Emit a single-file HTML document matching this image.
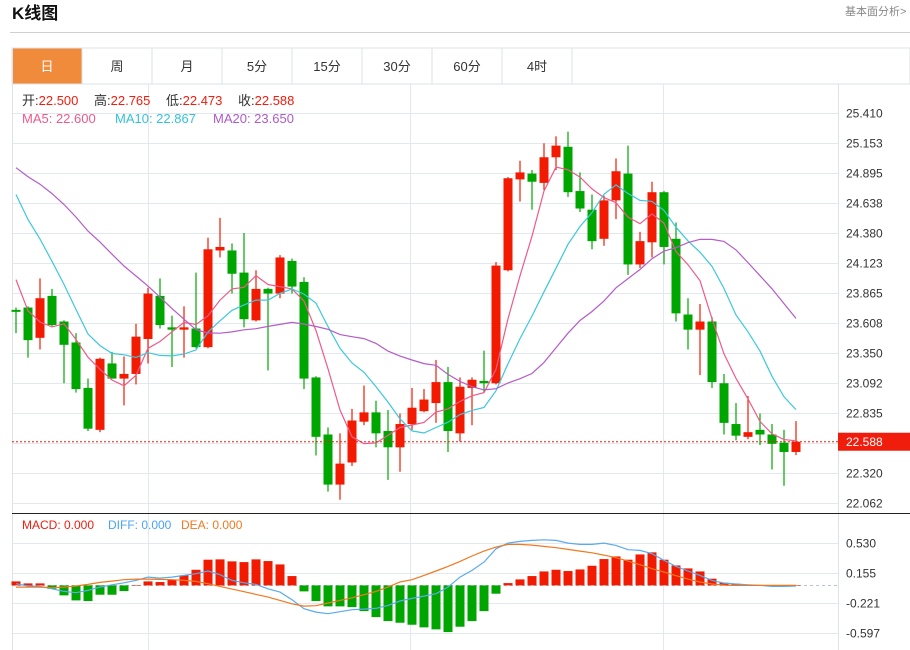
<!DOCTYPE html>
<html><head><meta charset="utf-8">
<style>
body{margin:0;background:#fff;width:910px;height:650px;overflow:hidden;font-family:"Liberation Sans","Noto Sans CJK SC",sans-serif;}
svg{display:block}
</style></head>
<body>
<svg id="chart" width="910" height="650" viewBox="0 0 910 650" xmlns="http://www.w3.org/2000/svg" font-family="Liberation Sans, Noto Sans CJK SC, sans-serif">
  <text x="12" y="19" font-size="17" font-weight="bold" fill="#111">K线图</text>
  <text x="845" y="15" font-size="11" fill="#888">基本面分析&gt;</text>
  <line x1="10" y1="32.5" x2="910" y2="32.5" stroke="#d0d0d0"/>
  <g id="tabs"></g>
  <g id="grid"></g>
  <g id="candles"></g>
  <g id="malines"></g>
  <g id="macd"></g>
  <g id="axes"></g>
  <g font-size="13">
    <text x="22" y="105" fill="#333">开:<tspan fill="#f01c0c">22.500</tspan></text>
    <text x="94" y="105" fill="#333">高:<tspan fill="#f01c0c">22.765</tspan></text>
    <text x="166" y="105" fill="#333">低:<tspan fill="#f01c0c">22.473</tspan></text>
    <text x="238" y="105" fill="#333">收:<tspan fill="#f01c0c">22.588</tspan></text>
  </g>
  <g font-size="13">
    <text x="22" y="123" fill="#ee5a8a">MA5: 22.600</text>
    <text x="115" y="123" fill="#33c3d8">MA10: 22.867</text>
    <text x="213" y="123" fill="#b05ac8">MA20: 23.650</text>
  </g>
  <g font-size="12">
    <text x="22" y="529" fill="#f01c0c">MACD: 0.000</text>
    <text x="108" y="529" fill="#4aa3f0">DIFF: 0.000</text>
    <text x="181" y="529" fill="#f07820">DEA: 0.000</text>
  </g>
</svg>
<script>
const prevCloses=[25.0,25.1,25.2,25.3,25.2,25.1,25.2,25.2,25.2,25.2,25.6,25.5,25.5,25.4,25.2,24.8,24.3,23.8,23.29];
const opens=[23.72,23.74,23.48,23.84,23.62,23.44,23.05,22.69,23.26,23.13,23.17,23.47,23.84,23.57,23.55,23.56,23.40,24.23,24.23,24.04,23.63,23.90,23.86,24.14,23.96,23.14,22.65,22.22,22.41,22.76,22.84,22.68,22.54,22.74,22.85,22.92,23.10,22.66,23.05,23.11,23.09,24.06,24.84,24.89,24.81,25.03,25.12,24.74,24.58,24.33,24.66,24.89,24.11,24.30,24.73,24.33,23.68,23.55,23.62,23.09,22.74,22.63,22.69,22.65,22.58,22.500];
const closes=[23.71,23.46,23.82,23.59,23.42,23.04,22.70,23.30,23.13,23.17,23.49,23.86,23.59,23.55,23.57,23.40,24.24,24.26,24.03,23.64,23.90,23.86,24.17,23.92,23.13,22.63,22.22,22.40,22.77,22.84,22.66,22.54,22.74,22.88,22.95,23.10,22.68,23.06,23.12,23.09,24.10,24.85,24.90,24.82,25.03,25.13,24.73,24.59,24.31,24.66,24.91,24.11,24.31,24.73,24.26,23.69,23.55,23.62,23.10,22.75,22.64,22.67,22.65,22.57,22.50,22.588];
const highs=[23.74,23.75,23.99,23.90,23.63,23.52,23.13,23.31,23.36,23.32,23.60,23.91,23.99,23.67,23.75,24.04,24.34,24.51,24.29,24.38,24.06,23.91,24.19,24.16,24.00,23.15,22.71,22.66,22.87,23.07,22.94,22.86,22.83,23.05,23.04,23.29,23.23,23.14,23.14,23.37,24.13,24.86,25.00,24.92,25.15,25.21,25.25,24.90,24.71,24.70,25.02,25.13,24.39,24.82,24.74,24.47,23.82,23.77,23.66,23.17,22.92,22.98,22.83,22.74,22.69,22.765];
const lows=[23.52,23.31,23.38,23.58,23.09,23.01,22.68,22.67,23.13,22.90,23.08,23.26,23.56,23.23,23.31,23.39,23.39,24.17,23.86,23.57,23.62,23.20,23.82,23.86,23.04,22.47,22.16,22.09,22.38,22.73,22.54,22.26,22.33,22.69,22.84,22.75,22.50,22.59,22.73,23.01,23.08,24.05,24.65,24.58,24.75,24.92,24.69,24.56,24.24,24.27,24.50,24.02,24.08,24.17,24.11,23.62,23.38,23.16,23.05,22.65,22.60,22.61,22.56,22.35,22.21,22.473];
const macdHist=[0.05,0.025,0.025,-0.042,-0.125,-0.188,-0.196,-0.117,-0.117,-0.071,0,0.05,0.042,0.071,0.125,0.196,0.322,0.326,0.301,0.292,0.326,0.305,0.263,0.117,-0.075,-0.196,-0.263,-0.263,-0.272,-0.322,-0.397,-0.447,-0.468,-0.493,-0.526,-0.551,-0.585,-0.518,-0.447,-0.322,-0.104,0.029,0.075,0.117,0.175,0.196,0.18,0.2,0.246,0.33,0.363,0.322,0.388,0.414,0.322,0.25,0.213,0.175,0.084,0.033,0.02,0.01,0.005,0.005,0.003,0];
const diffVals=[0.021,-0.008,-0.013,-0.042,-0.075,-0.092,-0.063,-0.021,0.008,0.033,0.063,0.104,0.092,0.104,0.125,0.146,0.180,0.134,0.063,0.033,0.013,-0.042,-0.084,-0.180,-0.292,-0.334,-0.355,-0.330,-0.305,-0.297,-0.288,-0.251,-0.196,-0.163,-0.134,-0.104,-0.021,0.104,0.188,0.292,0.459,0.530,0.551,0.564,0.572,0.564,0.530,0.514,0.514,0.530,0.501,0.447,0.439,0.397,0.313,0.238,0.180,0.125,0.063,0.029,0.017,0.008,0,-0.013,-0.013,-0.008];
const deaVals=[-0.021,-0.021,-0.021,-0.029,-0.021,-0.008,0.013,0.038,0.054,0.071,0.079,0.079,0.075,0.071,0.063,0.050,0.021,-0.013,-0.046,-0.079,-0.113,-0.146,-0.188,-0.230,-0.259,-0.255,-0.221,-0.188,-0.155,-0.117,-0.075,-0.021,0.042,0.071,0.125,0.180,0.238,0.301,0.368,0.430,0.480,0.514,0.514,0.505,0.489,0.472,0.451,0.430,0.409,0.380,0.347,0.305,0.259,0.209,0.167,0.121,0.079,0.042,0.017,0.004,0,0,0,0,0,0];
const priceTicks=['25.410','25.153','24.895','24.638','24.380','24.123','23.865','23.608','23.350','23.092','22.835','22.578','22.320','22.062'];
const macdTicks=['0.530','0.155','-0.221','-0.597'];
const tabLabels=['日','周','月','5分','15分','30分','60分','4时'];
const lastPrice='22.588';

const NS='http://www.w3.org/2000/svg';
const RED='#f21a00', GREEN='#00a600';
function mk(tag,attrs,parent){const e=document.createElementNS(NS,tag);for(const k in attrs)e.setAttribute(k,attrs[k]);parent.appendChild(e);return e;}
const xAt=i=>16+12*i;
const yP=p=>113+(25.410-p)*(390/3.348);
const yM=v=>585.4-v*79.8;

// tabs
const tabs=document.getElementById('tabs');
mk('rect',{x:12,y:48,width:898,height:36,fill:'#fff',stroke:'#dde3ea'},tabs);
tabLabels.forEach((t,i)=>{
  const g=mk('g',{},tabs);
  
  
  mk('rect',{x:12+70*i,y:48,width:70,height:36,fill:i===0?'#f18b3c':'#fff',stroke:'#dde3ea'},g);
  const tx=mk('text',{x:47+70*i,y:71,'font-size':13,'text-anchor':'middle',fill:i===0?'#fff':'#333'},g);
  tx.textContent=t;
});

// grid & frame
const grid=document.getElementById('grid');
priceTicks.forEach(t=>{const y=Math.round(yP(parseFloat(t)))+0.5;const l=mk('line',{x1:12,y1:y,x2:838,y2:y,stroke:'#e3e8ee'},grid);});
macdTicks.forEach(t=>{const y=Math.round(yM(parseFloat(t)))+0.5;const l=mk('line',{x1:12,y1:y,x2:838,y2:y,stroke:'#e3e8ee'},grid);});
[148,410,663].forEach(x=>{mk('line',{x1:x+0.5,y1:84,x2:x+0.5,y2:650,stroke:'#e3e8ee'},grid);});
mk('line',{x1:12.5,y1:48,x2:12.5,y2:650,stroke:'#dde3ea'},grid);
mk('line',{x1:838.5,y1:84,x2:838.5,y2:650,stroke:'#dde3ea'},grid);
mk('line',{x1:12,y1:513.5,x2:910,y2:513.5,stroke:'#222'},grid);
mk('line',{x1:12,y1:585.5,x2:838,y2:585.5,stroke:'#b8c4d0','stroke-dasharray':'3,3'},grid);

// candles
const cg=document.getElementById('candles');
closes.forEach((c,i)=>{
  const o=opens[i],up=c>=o,col=up?RED:GREEN,x=xAt(i);
  const g=mk('g',{},cg);
  
  
  mk('line',{x1:x,y1:yP(highs[i]),x2:x,y2:yP(lows[i]),stroke:col,'stroke-width':1.2},g);
  const t=Math.min(yP(o),yP(c)),h=Math.max(2,Math.abs(yP(o)-yP(c)));
  mk('rect',{x:x-4.5,y:t,width:9,height:h,fill:col},g);
});

// MA lines
const all=prevCloses.concat(closes),off=prevCloses.length;
function ma(n){return closes.map((_,i)=>{let s=0;for(let k=0;k<n;k++)s+=all[off+i-k];return s/n;});}
const mg=document.getElementById('malines');
[[5,'#ee5a8a','ma5-line'],[10,'#3cc8dc','ma10-line'],[20,'#b45cc8','ma20-line']].forEach(([n,col,name])=>{
  const pts=ma(n).map((v,i)=>xAt(i)+','+yP(v).toFixed(1)).join(' ');
  const pl=mk('polyline',{points:pts,fill:'none',stroke:col,'stroke-width':1.2},mg);
  
  
});

// last price line
const lp=parseFloat(lastPrice),ly=yP(lp);
const ll=mk('line',{x1:12,y1:ly,x2:838,y2:ly,stroke:'#f01c0c','stroke-dasharray':'2,2','stroke-width':1},mg);



// MACD
const macd=document.getElementById('macd');
macdHist.forEach((v,i)=>{
  const y0=yM(0),y1=yM(v);
  const r=mk('rect',{x:xAt(i)-4.5,y:Math.min(y0,y1),width:9,height:Math.max(0.5,Math.abs(y1-y0)),fill:v>=0?RED:GREEN},macd);
  
  
});
[[diffVals,'#5aaaf0','diff-line'],[deaVals,'#f07820','dea-line']].forEach(([arr,col,name])=>{
  const pl=mk('polyline',{points:arr.map((v,i)=>xAt(i)+','+yM(v).toFixed(1)).join(' '),fill:'none',stroke:col,'stroke-width':1.2},macd);
  
  
});

// axes labels
const ax=document.getElementById('axes');
priceTicks.forEach(t=>{
  const tx=mk('text',{x:846,y:yP(parseFloat(t))+4.5,'font-size':12,fill:'#333'},ax);
  
  
  tx.textContent=t;
});
macdTicks.forEach(t=>{
  const tx=mk('text',{x:846,y:yM(parseFloat(t))+4.5,'font-size':12,fill:'#333'},ax);
  
  
  tx.textContent=t;
});
const box=mk('rect',{x:838,y:ly-9,width:72,height:18,fill:'#f01c0c'},ax);


const bt=mk('text',{x:846,y:ly+4.5,'font-size':12,fill:'#fff'},ax);


bt.textContent=lastPrice;
</script>
</body></html>
